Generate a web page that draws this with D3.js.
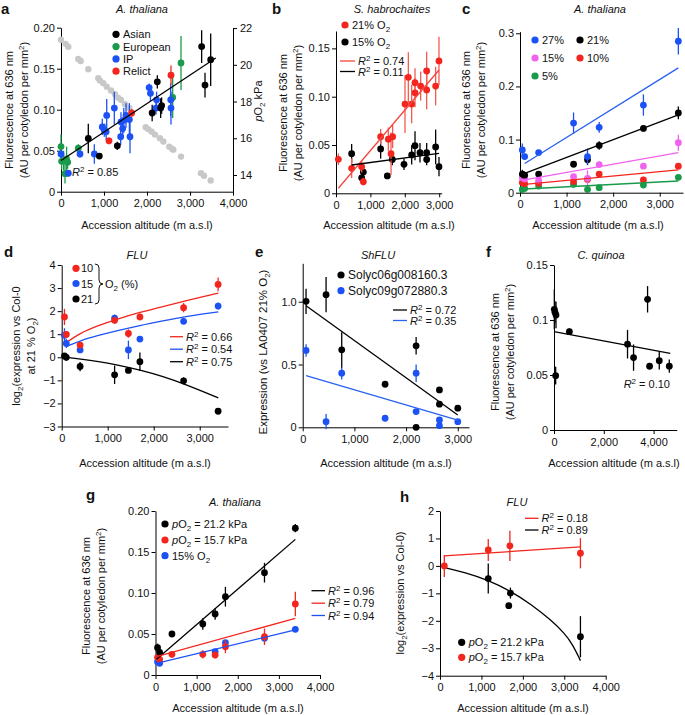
<!DOCTYPE html>
<html>
<head>
<meta charset="utf-8">
<script src="https://cdn.jsdelivr.net/npm/d3@7"></script>
<style>
  body { margin: 0; background: #fff; }
  svg { display: block; font-family: 'Liberation Sans', Arial, sans-serif; }
</style>
</head>
<body>
<svg id="fig" width="685" height="715"></svg>
<script>
/* ── data: [altitude, value, error] ─────────────────────────────── */

// a — A. thaliana accessions, 21% O2
const aAsian    = [[635,0.065,0.018],[891,0.0435,0.003],[1310,0.056,0.005],[2120,0.096,0.01],[2240,0.134,0.008],
                   [2318,0.102,0.012],[2340,0.105,0.01],[3271,0.177,0.02],[3349,0.13,0.015],[3481,0.161,0.032]];
const aEuropean = [[0,0.055,0.015],[15,0.037,0.01],[60,0.038,0.012],[93,0.022,0.012],[130,0.04,0.015],
                   [155,0.036,0.008],[402,0.053,0.005],[2597,0.115,0.025],[2791,0.157,0.033]];
const aIP       = [[0,0.046,0.005],[170,0.0225,0.004],[442,0.046,0.004],[775,0.046,0.012],[960,0.079,0.01],
                   [1007,0.075,0.008],[1063,0.093,0.02],[1050,0.073,0.01],[1240,0.102,0.02],[1388,0.067,0.01],
                   [1395,0.085,0.012],[1434,0.077,0.012],[1460,0.087,0.015],[1512,0.093,0.015],[1590,0.088,0.02],
                   [1605,0.067,0.02],[2050,0.127,0.005],[2080,0.12,0.01],[2209,0.102,0.008],[2223,0.112,0.01],
                   [2551,0.112,0.02],[2558,0.102,0.02]];
const aRelict   = [[1116,0.062,0.004],[1644,0.096,0.005],[2558,0.142,0.012]];
const aPO2Alt   = [0,109,170,402,458,635,867,907,984,1063,1163,1256,1333,1395,1488,1588,
                   1970,2030,2109,2186,2302,2381,2519,2588,2612,2791,3256,3326,3481];
const aPO2kPa   = [21.36,21.14,20.98,20.32,20.21,19.76,19.27,19.14,19.0,18.81,18.6,18.4,18.2,18.09,17.85,17.64,
                   16.6,16.5,16.36,16.2,16.0,15.82,15.54,15.42,15.38,15.0,14.1,13.96,13.7];
const aFit      = [[0,0.038],[3600,0.163]];

// b — S. habrochaites
const b21 = [[68,0.0352,0.006],[455,0.0259,0.01],[746,0.0276,0.006],[795,0.012,0.004],[1298,0.0586,0.008],
             [1521,0.056,0.012],[1600,0.041,0.022],[1647,0.0586,0.012],[2006,0.0924,0.03],[2103,0.12,0.026],
             [2200,0.0924,0.02],[2297,0.1145,0.015],[2297,0.104,0.015],[2461,0.111,0.015],[2636,0.1266,0.02],
             [2636,0.107,0.02],[2897,0.111,0.02],[2994,0.137,0.025]];
const b15 = [[455,0.041,0.01],[746,0.016,0.006],[795,0.022,0.006],[1298,0.0459,0.01],[1492,0.018,0.003],
             [1637,0.035,0.006],[1977,0.03,0.006],[2200,0.0397,0.01],[2297,0.0493,0.015],[2442,0.042,0.01],
             [2636,0.042,0.01],[2636,0.035,0.006],[2897,0.048,0.018],[2994,0.0276,0.01]];
const bFit21 = [[68,0.0052],[2994,0.1276]];
const bFit15 = [[455,0.0293],[2994,0.0414]];

// c — A. thaliana at five O2 levels
const cAlt = [50,100,400,1150,1450,1700,2650,3400];
const c27  = [0.0805,0.068,0.0755,0.131,0.068,0.123,0.165,0.285];
const c27e = [0.012,0.006,0.005,0.02,0.015,0.01,0.02,0.025];
const c21  = [0.035,0.033,0.035,0.0535,0.062,0.089,0.121,0.15];
const c21e = [0.008,0.004,0.004,0.005,0.01,0.008,0.005,0.012];
const c15  = [0.028,0.026,0.023,0.03,0.027,0.053,0.05,0.094];
const c15e = [0.004,0.003,0.003,0.004,0.015,0.004,0.004,0.015];
const c10  = [0.019,0.017,0.0176,0.021,0.025,0.035,0.024,0.05];
const c10e = [0.003,0.003,0.003,0.003,0.004,0.004,0.006,0.005];
const c5   = [0.006,0.008,0.0126,0.0157,0.006,0.0094,0.0145,0.029];
const c5e  = [0.002,0.002,0.002,0.002,0.002,0.002,0.002,0.003];
const cFits = { c27: [[100,0.055],[3400,0.235]], c21: [[100,0.0365],[3400,0.1465]],
                c15: [[100,0.024],[3400,0.0755]], c10: [[100,0.0157],[3400,0.043]], c5: [[100,0.007],[3400,0.022]] };

// d — FLU expression
const dAlt = [60,100,400,1150,1450,1700,2650,3400];
const d10  = [1.75,0.99,0.53,1.6,1.03,1.75,2.15,3.16];
const d10e = [0.35,0.15,0.12,0.15,0.18,0.15,0.2,0.3];
const d15  = [0.96,0.6,0.32,1.7,0.32,0.79,1.56,2.22];
const d15e = [0.3,0.2,0.1,0.15,0.4,0.08,0.1,0.15];
const d21  = [0.06,0.0,-0.4,-0.76,-0.57,-0.19,-1.02,-2.34];
const d21e = [0.1,0.15,0.2,0.4,0.08,0.4,0.15,0.05];
const dCurveAlt = [95,400,800,1200,1700,2200,2700,3404];
const dCurve10  = [0.63,1.05,1.38,1.65,1.95,2.2,2.45,2.78];
const dCurve15  = [0.46,0.72,0.95,1.15,1.38,1.58,1.77,1.97];
const dCurve21  = [0.0,-0.07,-0.18,-0.33,-0.55,-0.83,-1.18,-1.76];

// e — ShFLU
const eBlack = [[65,1.003,0.1],[452,1.056,0.14],[755,0.617,0.14],[1594,0.343,0.02],[2194,0.649,0.07],
                [2194,0.0,0.01],[2645,0.298,0.02],[2645,0.184,0.02],[3000,0.152,0.02]];
const eBlue  = [[65,0.612,0.05],[452,0.045,0.06],[755,0.431,0.05],[1594,0.072,0.01],[2194,0.431,0.07],
                [2194,0.125,0.01],[2645,0.059,0.02],[2645,0.013,0.01],[3000,0.045,0.01]];
const eFitBlack = [[65,0.968],[3000,0.098]];
const eFitBlue  = [[65,0.412],[3000,0.058]];

// f — C. quinoa
const fPts = [[13,0.1097,0.018],[80,0.1045,0.012],[40,0.107,0.01],[67,0.0494,0.008],[617,0.0894,0.003],
              [2953,0.078,0.013],[3195,0.0658,0.012],[3758,0.1188,0.012],[3839,0.058,0.003],
              [4228,0.063,0.008],[4631,0.058,0.006]];
const fFit = [[0,0.0894],[4670,0.0697]];

// g — A. thaliana, pO2 treatments
const gAlt = [50,100,400,1150,1450,1700,2650,3400];
const g212 = [0.0333,0.0276,0.05,0.0622,0.0744,0.0955,0.1248,0.179];
const g212e = [0.005,0.004,0.003,0.007,0.007,0.012,0.012,0.005];
const g157 = [0.0215,0.019,0.0252,0.0252,0.0244,0.0346,0.0467,0.0866];
const g157e = [0.003,0.003,0.004,0.005,0.004,0.008,0.01,0.015];
const g15  = [0.0163,0.0142,null,null,0.0285,0.0394,0.0447,0.0557];
const g15e = [0.002,0.002,0,0,0.003,0.003,0.003,0.003];
const gFit212 = [[25,0.0191],[3400,0.1654]];
const gFit157 = [[25,0.0224],[3400,0.0691]];
const gFit15  = [[25,0.0142],[3400,0.0549]];

// h — FLU at two pO2
const hRed   = [[104,0,0.4],[1165,0.58,0.4],[1687,0.73,0.55],[3390,0.46,0.55]];
const hBlack = [[1165,-0.46,0.55],[1700,-0.99,0.2],[1660,-1.45,0.04],[3390,-2.58,0.75]];
const hFitRed = [[104,0.364],[3390,0.69]];
const hCurveAlt   = [104,600,1165,1687,2200,2700,3000,3200,3390];
const hCurveBlack = [-0.06,-0.24,-0.52,-0.9,-1.4,-2.0,-2.45,-2.85,-3.45];

/* ── colours ───────────────────────────────────────────────────── */
const BLACK = '#000', GREEN = '#1a9a4b', BLUE = '#1c52f5', RED = '#f2261e',
      PINK = '#f163ef', GREY = '#c8c8c8';

/* ── helpers ───────────────────────────────────────────────────── */
const svg = d3.select('#fig');
const FS = 11;

// tiny markup: <i>..</i>, <sup>..</sup>, <sub>..</sub>
function rich(sel, str) {
  const re = /<(i|sup|sub)>(.*?)<\/\1>|([^<]+)/g;
  let m, cur = 0;
  while ((m = re.exec(str))) {
    const t = sel.append('tspan');
    let off = 0;
    if (m[3] !== undefined) t.text(m[3]);
    else {
      t.text(m[2]);
      if (m[1] === 'i') t.attr('font-style', 'italic');
      if (m[1] === 'sup') { off = -4; t.attr('font-size', 8); }
      if (m[1] === 'sub') { off = 3;  t.attr('font-size', 8); }
    }
    if (off !== cur) t.attr('dy', off - cur);
    cur = off;
  }
  return sel;
}

function label(x, y, str, opts = {}) {
  const t = svg.append('text')
    .attr('x', x).attr('y', y)
    .attr('font-size', opts.size || FS)
    .attr('text-anchor', opts.anchor || 'start')
    .attr('fill', '#111');
  if (opts.rotate) t.attr('transform', `rotate(-90,${x},${y})`);
  if (opts.bold) t.attr('font-weight', 'bold');
  if (opts.italic) t.attr('font-style', 'italic');
  return rich(t, str);
}

function letter(x, y, s) { label(x, y, s, { size: 15, bold: true }); }

const fmtX = d3.format(',');

function panel(o) {
  const x = d3.scaleLinear().domain(o.xd).range([o.l, o.r]);
  const y = d3.scaleLinear().domain(o.yd).range([o.b, o.t]);
  const g = svg.append('g');
  const ax = g.append('g').attr('transform', `translate(0,${o.b})`)
    .call(d3.axisBottom(x).tickValues(o.xt).tickFormat(fmtX).tickSize(4).tickPadding(4).tickSizeOuter(0));
  const ay = g.append('g').attr('transform', `translate(${o.l},0)`)
    .call(d3.axisLeft(y).tickValues(o.yt).tickFormat(o.yf).tickSize(4).tickPadding(2).tickSizeOuter(0));
  [ax, ay].forEach(a => a.attr('font-size', FS).attr('font-family', null)
    .call(s => s.selectAll('text').attr('fill', '#111')));
  const plot = g.append('g');
  return { g: plot, x, y };
}

function dots(p, data, color, errColor) {
  const ec = errColor || color;
  p.g.append('g').selectAll('line').data(data.filter(d => d[2])).join('line')
    .attr('x1', d => p.x(d[0])).attr('x2', d => p.x(d[0]))
    .attr('y1', d => p.y(d[1] - d[2])).attr('y2', d => p.y(d[1] + d[2]))
    .attr('stroke', ec).attr('stroke-width', 1.3);
  p.g.append('g').selectAll('circle').data(data).join('circle')
    .attr('cx', d => p.x(d[0])).attr('cy', d => p.y(d[1]))
    .attr('r', 3.4).attr('fill', color);
}

// zip parallel arrays into [x, y, err] rows, skipping missing values
function zip(xs, ys, es) {
  return xs.map((x, i) => [x, ys[i], es ? es[i] : 0]).filter(d => d[1] != null);
}

function fitLine(p, pts, color, curve) {
  const line = d3.line().x(d => p.x(d[0])).y(d => p.y(d[1])).curve(curve || d3.curveLinear);
  p.g.append('path').datum(pts).attr('d', line)
    .attr('fill', 'none').attr('stroke', color).attr('stroke-width', 1.3);
}

function legendDot(x, y, color, str, gap = 7, size = FS) {
  svg.append('circle').attr('cx', x).attr('cy', y).attr('r', 3.6).attr('fill', color);
  label(x + gap, y + 4, str, { size });
}

function legendLine(x1, x2, y, color, str) {
  svg.append('line').attr('x1', x1).attr('x2', x2).attr('y1', y).attr('y2', y)
    .attr('stroke', color).attr('stroke-width', 1.3);
  label(x2 + 3, y + 4, str);
}

function yTitle(x, cy, lines) {
  lines.forEach((s, i) => label(x + i * 15, cy, s, { anchor: 'middle', rotate: true }));
}

const XT = 'Accession altitude (m a.s.l)';
const FLUO = ['Fluorescence at 636 nm', '(AU per cotyledon per mm<sup>2</sup>)'];
const dec = n => d => d === 0 ? '0' : d.toFixed(n);

/* ── a ─────────────────────────────────────────────────────────── */
{
  const p = panel({ l: 61, r: 233, b: 191.7, t: 27.7, xd: [0, 4000], yd: [0, 0.2],
    xt: [0, 1000, 2000, 3000, 4000], yt: [0, 0.05, 0.1, 0.15, 0.2], yf: dec(2) });
  const yR = d3.scaleLinear().domain([13.09, 22.02]).range([191.7, 27.7]);
  const ar = svg.append('g').attr('transform', 'translate(233,0)')
    .call(d3.axisRight(yR).tickValues([14, 16, 18, 20, 22]).tickSize(4).tickPadding(3).tickSizeOuter(0))
    .attr('font-size', FS).attr('font-family', null);
  ar.selectAll('text').attr('fill', '#111');
  p.g.append('g').selectAll('circle').data(aPO2Alt).join('circle')
    .attr('cx', d => p.x(d)).attr('cy', (d, i) => yR(aPO2kPa[i])).attr('r', 3.2).attr('fill', GREY);
  dots(p, aEuropean, GREEN);
  dots(p, aIP, BLUE);
  dots(p, aAsian, BLACK);
  dots(p, aRelict, RED);
  fitLine(p, aFit, BLACK);
  letter(1, 14, 'a');
  label(142, 13, 'A. thaliana', { anchor: 'middle', italic: true });
  legendDot(116, 34.3, BLACK, 'Asian');
  legendDot(116, 46.6, GREEN, 'European');
  legendDot(116, 58.9, BLUE, 'IP');
  legendDot(116, 71.2, RED, 'Relict');
  label(72, 176, '<i>R</i><sup>2</sup> = 0.85');
  yTitle(13, 110, FLUO);
  label(262, 101, '<i>p</i>O<sub>2</sub> kPa', { anchor: 'middle', rotate: true });
  label(147, 229, XT, { anchor: 'middle' });
}

/* ── b ─────────────────────────────────────────────────────────── */
{
  const p = panel({ l: 336, r: 441.7, b: 193.3, t: 31, xd: [0, 3073], yd: [0, 0.168],
    xt: [0, 1000, 2000, 3000], yt: [0, 0.05, 0.1, 0.15], yf: dec(2) });
  dots(p, b15, BLACK);
  dots(p, b21, RED, '#f55a50');
  fitLine(p, bFit21, '#f4463c');
  fitLine(p, bFit15, BLACK);
  letter(272, 14, 'b');
  label(392, 13, 'S. habrochaites', { anchor: 'middle', italic: true });
  legendDot(345, 25, RED, '21% O<sub>2</sub>');
  legendDot(345, 42, BLACK, '15% O<sub>2</sub>');
  legendLine(340, 355, 61, '#f4463c', '<i>R</i><sup>2</sup> = 0.74');
  legendLine(340, 355, 71.5, BLACK, '<i>R</i><sup>2</sup> = 0.11');
  yTitle(287, 113, FLUO);
  label(389, 229, XT, { anchor: 'middle' });
}

/* ── c ─────────────────────────────────────────────────────────── */
{
  const p = panel({ l: 520, r: 683, b: 192.7, t: 31.7, xd: [0, 3500], yd: [0, 0.303],
    xt: [0, 1000, 2000, 3000], yt: [0, 0.1, 0.2, 0.3], yf: dec(1) });
  dots(p, zip(cAlt, c5, c5e), GREEN);
  dots(p, zip(cAlt, c10, c10e), RED);
  dots(p, zip(cAlt, c15, c15e), PINK);
  dots(p, zip(cAlt, c21, c21e), BLACK);
  dots(p, zip(cAlt, c27, c27e), BLUE);
  fitLine(p, cFits.c27, '#2a62f0');
  fitLine(p, cFits.c21, BLACK);
  fitLine(p, cFits.c15, PINK);
  fitLine(p, cFits.c10, RED);
  fitLine(p, cFits.c5, GREEN);
  letter(462, 14, 'c');
  label(600, 13, 'A. thaliana', { anchor: 'middle', italic: true });
  legendDot(535, 40, BLUE, '27%');
  legendDot(580, 40, BLACK, '21%');
  legendDot(535, 58, PINK, '15%');
  legendDot(580, 58, RED, '10%');
  legendDot(535, 76, GREEN, '5%');
  yTitle(470, 110, FLUO);
  label(598, 229, XT, { anchor: 'middle' });
}

/* ── d ─────────────────────────────────────────────────────────── */
{
  const p = panel({ l: 61.7, r: 228, b: 426.5, t: 265, xd: [0, 3615], yd: [-3, 4],
    xt: [0, 1000, 2000, 3000], yt: [-3, -2, -1, 0, 1, 2, 3, 4], yf: d3.format('d') });
  fitLine(p, zip(dCurveAlt, dCurve10), RED, d3.curveBasis);
  fitLine(p, zip(dCurveAlt, dCurve15), BLUE, d3.curveBasis);
  fitLine(p, zip(dCurveAlt, dCurve21), BLACK, d3.curveBasis);
  dots(p, zip(dAlt, d21, d21e), BLACK);
  dots(p, zip(dAlt, d15, d15e), BLUE);
  dots(p, zip(dAlt, d10, d10e), RED);
  letter(4, 257, 'd');
  label(137, 259, 'FLU', { anchor: 'middle', italic: true });
  legendDot(76, 268.3, RED, '10', 5);
  legendDot(76, 283.5, BLUE, '15', 5);
  legendDot(76, 299, BLACK, '21', 5);
  svg.append('path')
    .attr('d', 'M95,264 Q99,264 99,268 L99,280 Q99,284 103,284 Q99,284 99,288 L99,300 Q99,304 95,304')
    .attr('fill', 'none').attr('stroke', '#111').attr('stroke-width', 1);
  label(105, 288, 'O<sub>2</sub> (%)');
  legendLine(170, 183, 336.7, RED, '<i>R</i><sup>2</sup> = 0.66');
  legendLine(170, 183, 349.2, BLUE, '<i>R</i><sup>2</sup> = 0.54');
  legendLine(170, 183, 361.7, BLACK, '<i>R</i><sup>2</sup> = 0.75');
  yTitle(20, 346, ['log<sub>2</sub>(expression vs Col-0', 'at 21 % O<sub>2</sub>)']);
  label(145, 467, XT, { anchor: 'middle' });
}

/* ── e ─────────────────────────────────────────────────────────── */
{
  const p = panel({ l: 302.7, r: 469, b: 427.3, t: 263.3, xd: [0, 3217], yd: [0, 1.306],
    xt: [0, 1000, 2000, 3000], yt: [0, 0.5, 1.0], yf: dec(1) });
  dots(p, eBlue, BLUE);
  dots(p, eBlack, BLACK);
  fitLine(p, eFitBlack, BLACK);
  fitLine(p, eFitBlue, '#2a62f0');
  letter(255, 257, 'e');
  label(378, 259, 'ShFLU', { anchor: 'middle', italic: true });
  legendDot(341, 275, BLACK, 'Solyc06g008160.3', 7, 12);
  legendDot(341, 290.7, BLUE, 'Solyc09g072880.3', 7, 12);
  legendLine(393, 407, 310, BLACK, '<i>R</i><sup>2</sup> = 0.72');
  legendLine(393, 407, 320.5, '#2a62f0', '<i>R</i><sup>2</sup> = 0.35');
  label(267, 352, 'Expression (vs LA0407 21% O<sub>2</sub>)', { anchor: 'middle', rotate: true, size: 11.5 });
  label(386, 467, XT, { anchor: 'middle' });
}

/* ── f ─────────────────────────────────────────────────────────── */
{
  const p = panel({ l: 554, r: 676.7, b: 430, t: 265, xd: [0, 4928], yd: [0, 0.15],
    xt: [0, 2000, 4000], yt: [0, 0.05, 0.1, 0.15], yf: d => d === 0 ? '0' : String(d) });
  dots(p, fPts, BLACK);
  fitLine(p, fFit, BLACK);
  letter(486, 257, 'f');
  label(601, 259, 'C. quinoa', { anchor: 'middle', italic: true });
  label(670, 388, '<i>R</i><sup>2</sup> = 0.10', { anchor: 'end' });
  yTitle(499, 352, FLUO);
  label(614, 467, XT, { anchor: 'middle' });
}

/* ── g ─────────────────────────────────────────────────────────── */
{
  const p = panel({ l: 155.5, r: 320, b: 675, t: 511, xd: [0, 4000], yd: [0, 0.2],
    xt: [0, 1000, 2000, 3000, 4000], yt: [0, 0.05, 0.1, 0.15, 0.2], yf: dec(2) });
  dots(p, zip(gAlt, g15, g15e), BLUE);
  dots(p, zip(gAlt, g157, g157e), RED);
  dots(p, zip(gAlt, g212, g212e), BLACK);
  fitLine(p, gFit212, BLACK);
  fitLine(p, gFit157, RED);
  fitLine(p, gFit15, BLUE);
  letter(86, 500, 'g');
  label(235, 505.5, 'A. thaliana', { anchor: 'middle', italic: true });
  legendDot(165, 524, BLACK, '<i>p</i>O<sub>2</sub> = 21.2 kPa');
  legendDot(165, 540, RED, '<i>p</i>O<sub>2</sub> = 15.7 kPa');
  legendDot(165, 555.7, BLUE, '15% O<sub>2</sub>');
  legendLine(311.5, 325, 590.7, BLACK, '<i>R</i><sup>2</sup> = 0.96');
  legendLine(311.5, 325, 603.2, RED, '<i>R</i><sup>2</sup> = 0.79');
  legendLine(311.5, 325, 615.5, BLUE, '<i>R</i><sup>2</sup> = 0.94');
  yTitle(90, 596, FLUO);
  label(238, 712, XT, { anchor: 'middle' });
}

/* ── h ─────────────────────────────────────────────────────────── */
{
  const p = panel({ l: 440, r: 605.7, b: 675.7, t: 511, xd: [0, 4000], yd: [-4, 2],
    xt: [0, 1000, 2000, 3000, 4000], yt: [-4, -3, -2, -1, 0, 1, 2], yf: d3.format('d') });
  fitLine(p, hFitRed, RED);
  fitLine(p, zip(hCurveAlt, hCurveBlack), BLACK, d3.curveBasis);
  dots(p, hBlack, BLACK);
  dots(p, hRed, RED);
  letter(400, 501.5, 'h');
  label(517, 505.5, 'FLU', { anchor: 'middle', italic: true });
  legendLine(525, 538.5, 518.3, RED, '<i>R</i><sup>2</sup> = 0.18');
  legendLine(525, 538.5, 530, BLACK, '<i>R</i><sup>2</sup> = 0.89');
  legendDot(461.7, 642.3, BLACK, '<i>p</i>O<sub>2</sub> = 21.2 kPa');
  legendDot(461.7, 657.3, RED, '<i>p</i>O<sub>2</sub> = 15.7 kPa');
  label(404, 593, 'log<sub>2</sub>(expression vs Col-0)', { anchor: 'middle', rotate: true });
  label(523, 712, XT, { anchor: 'middle' });
}
</script>
</body>
</html>
